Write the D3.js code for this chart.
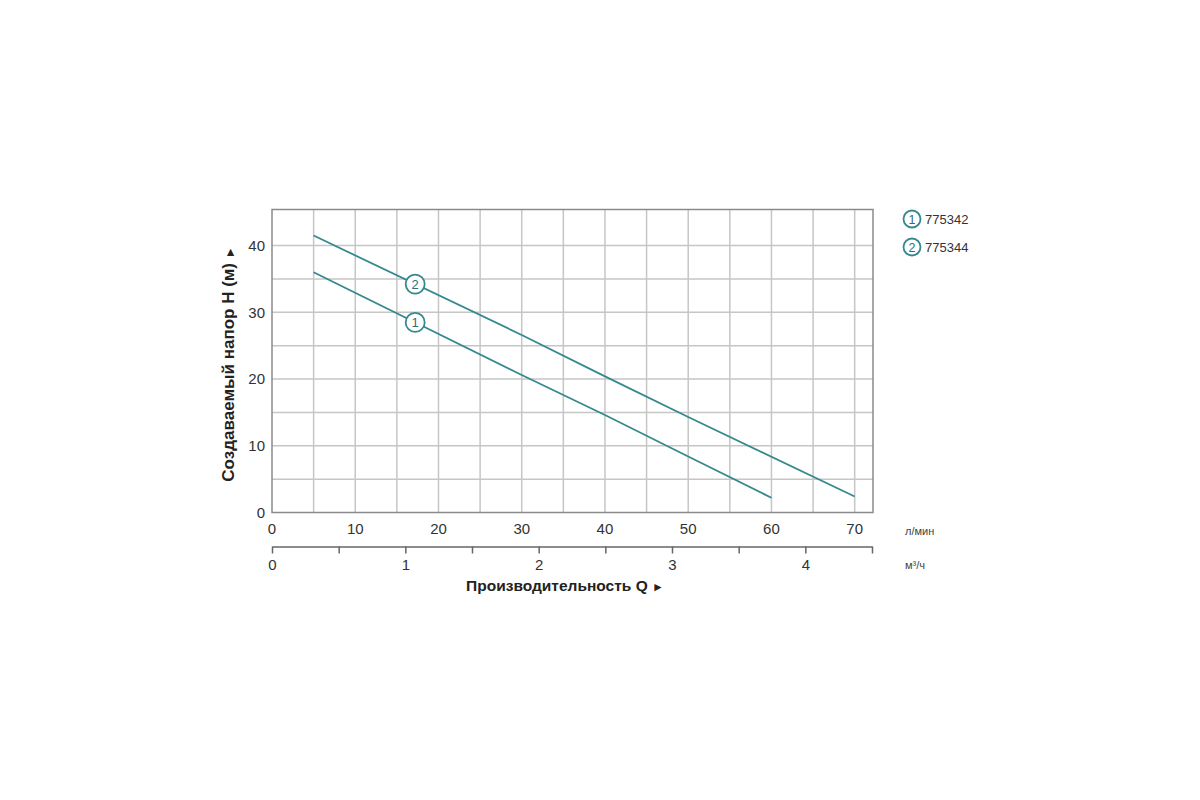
<!DOCTYPE html>
<html lang="ru">
<head>
<meta charset="UTF-8" />
<title>Напорная характеристика</title>
<script src="https://d3js.org/d3.v7.min.js"></script>
<style>
    body { margin: 0; background: #fff; font-family: "Liberation Sans", Arial, sans-serif; }
    svg { display: block; }
    .grid line { stroke: #c6c6c6; stroke-width: 1.5; }
    .tick-lbl { fill: #333; font-size: 15px; }
</style>
</head>
<body>
<div id="chart"></div>
<script>
    // данные кривых (Q, л/мин -> H, м)
    const seriesNames = ["775342", "775344"];
    const seriesIds = ["1", "2"];
    const flow1 = [5, 30, 40, 50, 60];
    const head1 = [36.0, 20.6, 14.6, 8.4, 2.2];
    const flow2 = [5, 30, 40, 50, 70];
    const head2 = [41.5, 26.6, 20.4, 14.3, 2.4];
    const markerFlow = 17.2;

    const xTicksLmin = [0, 10, 20, 30, 40, 50, 60, 70];
    const xTicksM3h = [0, 1, 2, 3, 4];
    const yTicks = [0, 10, 20, 30, 40];

    const margin = { top: 209.5, left: 272 },
        width = 601,
        height = 303;

    const color = "#35898e";

    const svg = d3.select("#chart")
        .append("svg")
        .attr("width", 1200)
        .attr("height", 800);

    const g = svg.append("g")
        .attr("transform", `translate(${margin.left},${margin.top})`);

    const x = d3.scaleLinear().domain([0, 72.2]).range([0, width]);
    const xm3 = d3.scaleLinear().domain([0, 4.5]).range([0, width - 1]);
    const y = d3.scaleLinear().domain([0, 45.4]).range([height, 0]);

    // сетка
    g.append("g").attr("class", "grid")
        .selectAll("line")
        .data(d3.range(5, 72, 5))
        .enter().append("line")
        .attr("x1", d => x(d)).attr("x2", d => x(d))
        .attr("y1", 0).attr("y2", height);

    g.append("g").attr("class", "grid")
        .selectAll("line")
        .data(d3.range(5, 45, 5))
        .enter().append("line")
        .attr("x1", 0).attr("x2", width)
        .attr("y1", d => y(d)).attr("y2", d => y(d));

    g.append("rect")
        .attr("width", width).attr("height", height)
        .attr("fill", "none")
        .attr("stroke", "#8a8a8a")
        .attr("stroke-width", 1.5);

    // подписи осей
    g.selectAll(".ylbl")
        .data(yTicks)
        .enter().append("text")
        .attr("class", "tick-lbl")
        .attr("x", -7)
        .attr("y", d => y(d))
        .attr("dy", "0.35em")
        .attr("text-anchor", "end")
        .text(d => d);

    g.selectAll(".xlbl")
        .data(xTicksLmin)
        .enter().append("text")
        .attr("class", "tick-lbl")
        .attr("x", d => x(d))
        .attr("y", height + 16)
        .attr("text-anchor", "middle")
        .attr("dy", "0.35em")
        .text(d => d);

    g.append("text")
        .attr("x", width + 32).attr("y", height + 22)
        .attr("fill", "#444").style("font-size", "11px")
        .text("л/мин");

    // вторая шкала, м³/ч
    const axisM3 = g.append("g")
        .attr("transform", `translate(0,${height + 34})`)
        .call(d3.axisBottom(xm3)
            .tickValues(d3.range(0, 4.51, 0.5))
            .tickSize(7)
            .tickSizeOuter(0)
            .tickFormat(d => xTicksM3h.includes(d) ? d : ""));
    axisM3.select(".domain").attr("stroke", "#666").attr("stroke-width", 1.5);
    axisM3.selectAll(".tick line").attr("stroke", "#666").attr("stroke-width", 1.5);
    axisM3.selectAll(".tick text")
        .attr("fill", "#333")
        .style("font-size", "15px")
        .style("font-family", "'Liberation Sans', Arial, sans-serif")
        .attr("y", 13);

    g.append("text")
        .attr("x", width + 32).attr("y", height + 56)
        .attr("fill", "#444").style("font-size", "11px")
        .text("м³/ч");

    const xTitle = g.append("text")
        .attr("x", 293).attr("y", height + 78)
        .attr("text-anchor", "middle")
        .attr("fill", "#222")
        .style("font-size", "15.5px").style("font-weight", "bold")
        .text("Производительность Q ");
    xTitle.append("tspan").style("font-size", "12px").text("►");

    const yTitle = g.append("text")
        .attr("transform", `translate(-38,${height / 2 + 3}) rotate(-90)`)
        .attr("text-anchor", "middle")
        .attr("fill", "#222")
        .style("font-size", "17px").style("font-weight", "bold")
        .text("Создаваемый напор H (м) ");
    yTitle.append("tspan").style("font-size", "12px").text("►");

    // кривые
    const line = d3.line().x(d => x(d[0])).y(d => y(d[1]));
    const curves = [
        { id: seriesIds[0], pts: d3.zip(flow1, head1) },
        { id: seriesIds[1], pts: d3.zip(flow2, head2) }
    ];

    g.selectAll(".curve")
        .data(curves)
        .enter().append("path")
        .attr("d", d => line(d.pts))
        .attr("fill", "none")
        .attr("stroke", color)
        .attr("stroke-width", 1.8);

    // маркеры на кривых
    curves.forEach(c => {
        const fx = c.pts.map(p => p[0]), hy = c.pts.map(p => p[1]);
        const hAt = d3.scaleLinear().domain(fx).range(hy)(markerFlow);
        const mg = g.append("g")
            .attr("transform", `translate(${x(markerFlow)},${y(hAt)})`);
        mg.append("circle").attr("r", 9.5)
            .attr("fill", "#fff").attr("stroke", color).attr("stroke-width", 1.8);
        mg.append("text").attr("text-anchor", "middle").attr("dy", "0.36em")
            .attr("fill", "#2f6f74").style("font-size", "13px")
            .text(c.id);
    });

    // легенда
    const legend = svg.append("g").attr("transform", "translate(912,219)");
    seriesNames.forEach((name, i) => {
        const lg = legend.append("g").attr("transform", `translate(0,${i * 28})`);
        lg.append("circle").attr("r", 8.5)
            .attr("fill", "#fff").attr("stroke", color).attr("stroke-width", 1.8);
        lg.append("text").attr("text-anchor", "middle").attr("dy", "0.36em")
            .attr("fill", "#2f6f74").style("font-size", "12.5px")
            .text(seriesIds[i]);
        lg.append("text").attr("x", 13).attr("dy", "0.36em")
            .attr("fill", "#333").style("font-size", "13px")
            .text(name);
    });
</script>
</body>
</html>
